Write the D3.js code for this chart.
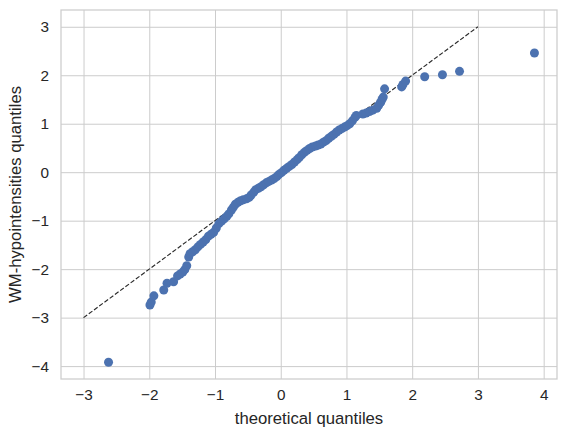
<!DOCTYPE html>
<html>
<head>
<meta charset="utf-8">
<script src="https://cdn.jsdelivr.net/npm/d3@7"></script>
<style>
  body { margin: 0; background: #fff; }
  svg { display: block; font-family: "Liberation Sans", Arial, sans-serif; }
  .grid line { stroke: #cccccc; stroke-width: 1; }
  .grid path { display: none; }
  .tick text { fill: #262626; font-size: 15.3px; }
</style>
</head>
<body>
<div id="chart"></div>
<script>
// theoretical quantiles (x) and sample quantiles (y)
const theoretical = [
  -2.62, -1.99, -1.97, -1.93, -1.78, -1.73, -1.63, -1.57, -1.53, -1.49,
  -1.46, -1.43, -1.40, -1.38, -1.34, -1.30, -1.26, -1.22, -1.18, -1.14,
  -1.10, -1.06, -1.02, -0.98, -0.94, -0.90, -0.86, -0.82, -0.79, -0.75,
  -0.72, -0.69, -0.65, -0.61, -0.57, -0.52, -0.48, -0.45, -0.41, -0.38,
  -0.34, -0.30, -0.26, -0.22, -0.18, -0.14, -0.10, -0.06, -0.03, 0.01,
  0.05, 0.09, 0.13, 0.17, 0.21, 0.25, 0.28, 0.32, 0.36, 0.40,
  0.44, 0.48, 0.53, 0.57, 0.61, 0.65, 0.69, 0.73, 0.77, 0.81,
  0.85, 0.89, 0.93, 0.97, 1.01, 1.05, 1.09, 1.13, 1.15, 1.25,
  1.30, 1.35, 1.40, 1.46, 1.49, 1.52, 1.54, 1.56, 1.58, 1.84,
  1.86, 1.90, 2.19, 2.46, 2.72, 3.86
]
const sample = [
  -3.92, -2.74, -2.68, -2.55, -2.43, -2.29, -2.26, -2.14, -2.10, -2.06,
  -2.01, -1.93, -1.75, -1.68, -1.64, -1.60, -1.54, -1.49, -1.44, -1.39,
  -1.32, -1.28, -1.24, -1.15, -1.06, -1.01, -0.96, -0.91, -0.86, -0.78,
  -0.72, -0.66, -0.62, -0.59, -0.57, -0.55, -0.52, -0.47, -0.41, -0.36,
  -0.33, -0.30, -0.26, -0.22, -0.19, -0.16, -0.13, -0.09, -0.05, -0.01,
  0.04, 0.08, 0.12, 0.16, 0.21, 0.26, 0.30, 0.36, 0.41, 0.45,
  0.49, 0.52, 0.54, 0.56, 0.58, 0.62, 0.65, 0.70, 0.74, 0.78,
  0.83, 0.87, 0.90, 0.93, 0.96, 1.00, 1.06, 1.13, 1.17, 1.20,
  1.22, 1.25, 1.28, 1.32, 1.38, 1.44, 1.50, 1.55, 1.72, 1.76,
  1.81, 1.88, 1.97, 2.01, 2.08, 2.46
]
// 45 degree reference line end points
const refLine = [-3, 3]
const xTicks = [-3, -2, -1, 0, 1, 2, 3, 4]
const yTicks = [-4, -3, -2, -1, 0, 1, 2, 3]

const points = theoretical.map((t, i) => ({ x: t, y: sample[i] }))

const W = 567, H = 437
const margin = { top: 10, right: 10, bottom: 58, left: 61 }
const width = W - margin.left - margin.right
const height = H - margin.top - margin.bottom

const svg = d3.select("#chart").append("svg")
  .attr("width", W)
  .attr("height", H)

const g = svg.append("g")
  .attr("transform", "translate(" + margin.left + "," + margin.top + ")")

// matplotlib style 5% padding around the data
function padded(vals) {
  const lo = d3.min(vals), hi = d3.max(vals), p = (hi - lo) * 0.05
  return [lo - p, hi + p]
}
const x = d3.scaleLinear().domain(padded(theoretical.concat(refLine))).range([0, width])
const y = d3.scaleLinear().domain(padded(sample.concat(refLine))).range([height, 0])

// grid lines
g.append("g")
  .attr("class", "grid")
  .attr("transform", "translate(0," + height + ")")
  .call(d3.axisBottom(x).tickValues(xTicks).tickSize(-height).tickFormat(""))
g.append("g")
  .attr("class", "grid")
  .call(d3.axisLeft(y).tickValues(yTicks).tickSize(-width).tickFormat(""))

// tick labels
const xAxis = g.append("g")
  .attr("transform", "translate(0," + height + ")")
  .call(d3.axisBottom(x).tickValues(xTicks).tickSize(0).tickPadding(10).tickFormat(d3.format("d")))
const yAxis = g.append("g")
  .call(d3.axisLeft(y).tickValues(yTicks).tickSize(0).tickPadding(12).tickFormat(d3.format("d")))
xAxis.select(".domain").remove()
yAxis.select(".domain").remove()
svg.selectAll(".tick text").attr("font-family", null)

// frame
g.append("rect")
  .attr("width", width)
  .attr("height", height)
  .attr("fill", "none")
  .attr("stroke", "#cccccc")
  .attr("stroke-width", 1.25)

// reference line (under the points)
g.append("line")
  .attr("x1", x(refLine[0]))
  .attr("y1", y(refLine[0]))
  .attr("x2", x(refLine[1]))
  .attr("y2", y(refLine[1]))
  .attr("stroke", "#2a2a2a")
  .attr("stroke-width", 1.15)
  .attr("stroke-dasharray", "4.5,2")

// sample points
g.append("g")
  .selectAll("circle")
  .data(points)
  .join("circle")
  .attr("cx", d => x(d.x))
  .attr("cy", d => y(d.y))
  .attr("r", 4.5)
  .attr("fill", "#4c72b0")

// axis labels
svg.append("text")
  .attr("x", margin.left + width / 2)
  .attr("y", 424)
  .attr("text-anchor", "middle")
  .attr("fill", "#262626")
  .style("font-size", "16.7px")
  .text("theoretical quantiles")

svg.append("text")
  .attr("transform", "translate(21," + (margin.top + height / 2) + ") rotate(-90)")
  .attr("text-anchor", "middle")
  .attr("fill", "#262626")
  .style("font-size", "16.7px")
  .text("WM-hypointensities quantiles")
</script>
</body>
</html>
